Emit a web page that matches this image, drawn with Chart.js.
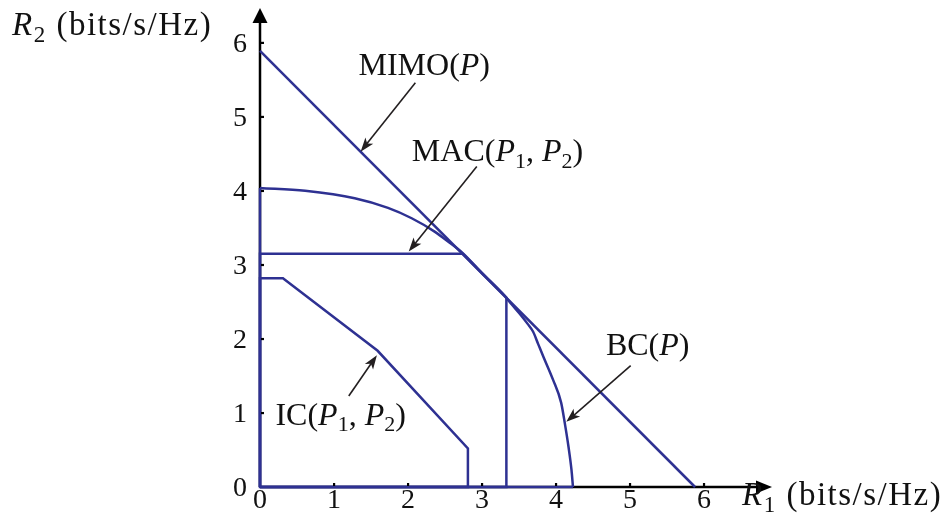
<!DOCTYPE html>
<html>
<head>
<meta charset="utf-8">
<script src="https://cdn.jsdelivr.net/npm/chart.js@4.4.0/dist/chart.umd.min.js"></script>
<style>
html, body { margin: 0; padding: 0; background: #fff; }
</style>
</head>
<body>
<canvas id="rates" width="942" height="531"></canvas>
<script>
// rate region corners, R1 / R2 in bits/s/Hz
const tickValues = [0, 1, 2, 3, 4, 5, 6];
const tickLabels = ['0', '1', '2', '3', '4', '5', '6'];

const mimoR1 = [0, 5.88];
const mimoR2 = [5.89, 0];

const macR1 = [0, 0, 2.74, 3.33, 3.33, 0];
const macR2 = [0, 3.15, 3.15, 2.56, 0, 0];

// BC boundary from the R2 axis to the R1 axis
const bcR1 = [0, 0.61, 1.28, 1.73, 2.05, 2.36, 2.55, 2.74, 3.00, 3.30, 3.40, 3.51, 3.62, 3.69, 3.76, 3.83, 3.96, 4.07, 4.12, 4.17, 4.21, 4.23];
const bcR2 = [4.04, 4.00, 3.90, 3.77, 3.63, 3.45, 3.31, 3.16, 2.89, 2.59, 2.47, 2.34, 2.20, 2.10, 1.93, 1.76, 1.45, 1.14, 0.86, 0.54, 0.23, 0];

const icR1 = [0, 0, 0.31, 1.59, 2.81, 2.81, 0];
const icR2 = [0, 2.82, 2.82, 1.84, 0.52, 0, 0];

const BLUE = '#2e3192';
const SERIF = '"Liberation Serif", "Times New Roman", serif';

// labels with arrows: text runs, label anchor (center, baseline), arrow tail -> head
const notes = [
  { runs: [['MIMO(', 'r'], ['P', 'i'], [')', 'r']], at: [2.22, 5.57], from: [2.10, 5.46], to: [1.36, 4.53] },
  { runs: [['MAC(', 'r'], ['P', 'i'], ['1', 's'], [', ', 'r'], ['P', 'i'], ['2', 's'], [')', 'r']], at: [3.21, 4.40], from: [2.93, 4.33], to: [2.01, 3.18] },
  { runs: [['BC(', 'r'], ['P', 'i'], [')', 'r']], at: [5.24, 1.78], from: [5.01, 1.64], to: [4.14, 0.88] },
  { runs: [['IC(', 'r'], ['P', 'i'], ['1', 's'], [', ', 'r'], ['P', 'i'], ['2', 's'], [')', 'r']], at: [1.09, 0.84], from: [1.20, 1.23], to: [1.58, 1.78] }
];

function toPoints(xs, ys) {
  return xs.map((x, i) => ({ x: x, y: ys[i] }));
}

function runFont(style, size) {
  if (style === 'i') return 'italic ' + size + 'px ' + SERIF;
  if (style === 's') return Math.round(size * 0.7) + 'px ' + SERIF;
  return size + 'px ' + SERIF;
}

function drawRich(ctx, runs, x, y, size, align) {
  let w = 0;
  runs.forEach(r => { ctx.font = runFont(r[1], size); w += ctx.measureText(r[0]).width; });
  let cx = align === 'center' ? x - w / 2 : x;
  ctx.textAlign = 'left';
  ctx.textBaseline = 'alphabetic';
  runs.forEach(r => {
    ctx.font = runFont(r[1], size);
    const dy = r[1] === 's' ? size * 0.2 : 0;
    ctx.fillText(r[0], cx, y + dy);
    cx += ctx.measureText(r[0]).width;
  });
}

function arrowHead(ctx, x0, y0, x1, y1, len, half) {
  const a = Math.atan2(y1 - y0, x1 - x0);
  const c = Math.cos(a), s = Math.sin(a);
  ctx.beginPath();
  ctx.moveTo(x1, y1);
  ctx.lineTo(x1 - len * c + half * s, y1 - len * s - half * c);
  ctx.lineTo(x1 - len * c * 0.75, y1 - len * s * 0.75);
  ctx.lineTo(x1 - len * c - half * s, y1 - len * s + half * c);
  ctx.closePath();
  ctx.fill();
}

const axesPlugin = {
  id: 'axesPlugin',
  beforeDatasetsDraw(chart) {
    const { ctx, chartArea: a } = chart;
    ctx.save();
    ctx.strokeStyle = '#000';
    ctx.fillStyle = '#000';
    ctx.lineWidth = 2.5;
    ctx.beginPath();
    ctx.moveTo(a.left, a.bottom);
    ctx.lineTo(a.right - 10, a.bottom);
    ctx.moveTo(a.left, a.bottom);
    ctx.lineTo(a.left, a.top + 10);
    ctx.stroke();
    // arrow tips
    ctx.beginPath();
    ctx.moveTo(a.right, a.bottom);
    ctx.lineTo(a.right - 16, a.bottom - 6.5);
    ctx.lineTo(a.right - 16, a.bottom + 6.5);
    ctx.closePath();
    ctx.fill();
    ctx.beginPath();
    ctx.moveTo(a.left, a.top);
    ctx.lineTo(a.left - 7.5, a.top + 15);
    ctx.lineTo(a.left + 7.5, a.top + 15);
    ctx.closePath();
    ctx.fill();
    ctx.restore();
  },
  afterDatasetsDraw(chart) {
    const { ctx, chartArea: a, scales } = chart;
    const sx = scales.x, sy = scales.y;
    ctx.save();
    ctx.fillStyle = '#000';
    // small inward tick marks
    tickValues.forEach(v => {
      if (v === 0) return;
      ctx.fillRect(sx.getPixelForValue(v) - 1, a.bottom - 4, 2.2, 3);
      ctx.fillRect(a.left + 1, sy.getPixelForValue(v) - 1, 3, 2.2);
    });
    // tick labels
    ctx.fillStyle = '#111';
    ctx.font = '28px ' + SERIF;
    ctx.textBaseline = 'alphabetic';
    tickValues.forEach((v, i) => {
      ctx.textAlign = 'center';
      ctx.fillText(tickLabels[i], sx.getPixelForValue(v), a.bottom + 21);
      ctx.textAlign = 'right';
      ctx.fillText(tickLabels[i], a.left - 13, sy.getPixelForValue(v) + 9);
    });
    // callouts
    ctx.strokeStyle = '#231f20';
    ctx.fillStyle = '#231f20';
    ctx.lineWidth = 1.6;
    notes.forEach(n => {
      const x0 = sx.getPixelForValue(n.from[0]), y0 = sy.getPixelForValue(n.from[1]);
      const x1 = sx.getPixelForValue(n.to[0]), y1 = sy.getPixelForValue(n.to[1]);
      const a2 = Math.atan2(y1 - y0, x1 - x0);
      ctx.beginPath();
      ctx.moveTo(x0, y0);
      ctx.lineTo(x1 - 8 * Math.cos(a2), y1 - 8 * Math.sin(a2));
      ctx.stroke();
      arrowHead(ctx, x0, y0, x1, y1, 14, 5);
    });
    ctx.fillStyle = '#111';
    notes.forEach(n => {
      drawRich(ctx, n.runs, sx.getPixelForValue(n.at[0]), sy.getPixelForValue(n.at[1]), 32, 'center');
    });
    // axis titles
    ctx.letterSpacing = '1.5px';
    drawRich(ctx, [['R', 'i'], ['2', 's'], [' (bits/s/Hz)', 'r']], a.left - 248, a.top + 27, 33, 'left');
    drawRich(ctx, [['R', 'i'], ['1', 's'], [' (bits/s/Hz)', 'r']], a.right - 30, a.bottom + 18, 33, 'left');
    ctx.restore();
  }
};

function regionSet(label, points, smooth) {
  return {
    label: label,
    data: points,
    showLine: true,
    borderColor: BLUE,
    borderWidth: 2.5,
    pointRadius: 0,
    tension: 0,
    cubicInterpolationMode: smooth ? 'monotone' : 'default',
    fill: false,
    clip: false
  };
}

const bcCurve = toPoints(bcR1, bcR2);
const bcEdges = [
  { x: bcR1[bcR1.length - 1], y: 0 },
  { x: 0, y: 0 },
  { x: 0, y: bcR2[0] }
];

new Chart(document.getElementById('rates'), {
  type: 'scatter',
  data: {
    datasets: [
      regionSet('MIMO(P)', toPoints(mimoR1, mimoR2), false),
      regionSet('BC(P)', bcCurve, true),
      regionSet('BC(P) axes', bcEdges, false),
      regionSet('MAC(P1, P2)', toPoints(macR1, macR2), false),
      regionSet('IC(P1, P2)', toPoints(icR1, icR2), false)
    ]
  },
  options: {
    responsive: false,
    animation: false,
    devicePixelRatio: 1,
    layout: { padding: { top: 8, right: 170, left: 0, bottom: 0 } },
    plugins: { legend: { display: false }, tooltip: { enabled: false } },
    scales: {
      x: {
        type: 'linear',
        min: 0,
        max: 6.92,
        grid: { display: false, drawTicks: false },
        border: { display: false },
        ticks: { display: false, stepSize: 1 },
        afterFit: s => { s.height = 44; }
      },
      y: {
        type: 'linear',
        min: 0,
        max: 6.47,
        grid: { display: false, drawTicks: false },
        border: { display: false },
        ticks: { display: false, stepSize: 1 },
        afterFit: s => { s.width = 260; }
      }
    }
  },
  plugins: [axesPlugin]
});
</script>
</body>
</html>
